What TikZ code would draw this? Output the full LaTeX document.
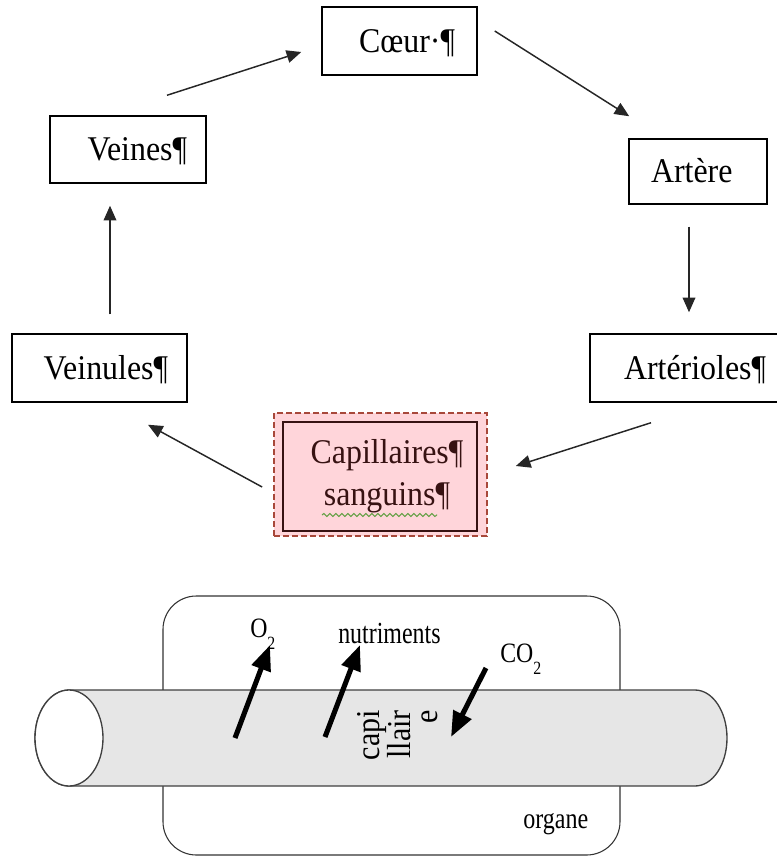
\documentclass[tikz,border=0pt]{standalone}
\usepackage{fontspec}
\setmainfont{Liberation Serif}
\newfontfamily\boxfont[FakeStretch=0.92]{Liberation Serif}
\newfontfamily\labfont[FakeStretch=0.85]{Liberation Serif}
\newfontfamily\nutfont[FakeStretch=0.78]{Liberation Serif}
\newfontfamily\orgfont[FakeStretch=0.82]{Liberation Serif}
\newfontfamily\capfont[FakeStretch=0.9]{Liberation Serif}
\usetikzlibrary{arrows.meta,calc,decorations.pathmorphing}
\definecolor{pinkfill}{RGB}{255,213,218}
\definecolor{dashbrown}{RGB}{168,72,58}
\definecolor{darkbrown}{RGB}{55,18,18}
\definecolor{squig}{RGB}{100,160,70}
\definecolor{tubegray}{RGB}{230,230,230}
\begin{document}
\begin{tikzpicture}[x=0.75pt,y=-0.75pt,
  box/.style={draw=black, line width=1.1pt, rectangle, inner ysep=0pt,
    font=\boxfont\fontsize{26}{30}\selectfont, text height=17.2pt, text depth=0pt},
  flow/.style={line width=1.1pt, draw=black!85, -{Triangle[length=11pt,width=9.5pt]}},
  gas/.style={line width=3.8pt, -{Triangle[length=19pt,width=14.5pt]}},
  lab/.style={anchor=base west, inner sep=0pt},
]
\useasboundingbox (0,0) rectangle (777,857);
\clip (0,0) rectangle (777,857);

% ---- circulation boxes ----
\node[box, minimum height=51pt, inner xsep=16.5pt, text width=83.25pt, align=right]
  (coeur) at (399.5,41) {Cœur·¶};
\node[box, minimum height=50.25pt, inner xsep=14.25pt, text width=88.5pt, align=right]
  (veines) at (128,149.5) {Veines¶};
\node[box, minimum height=48.75pt, inner xsep=16.5pt, text width=70.5pt, align=left]
  (artere) at (698,171.5) {Artère};
\node[box, minimum height=51pt, inner xsep=14.25pt, text width=117.75pt, align=right]
  (arterioles) at (687.5,368) {Artérioles¶};
\node[box, minimum height=51pt, inner xsep=14.25pt, text width=102.75pt, align=right]
  (veinules) at (99.5,368) {Veinules¶};

\node[draw=dashbrown, dashed, dash pattern=on 4.5pt off 2.25pt, line width=1.3pt,
  fill=pinkfill, minimum width=159.75pt, minimum height=92.25pt, inner sep=0pt]
  (capout) at (380.5,474.5) {};
\node[draw=darkbrown, line width=1.4pt, minimum width=145.5pt, minimum height=81.75pt,
  inner sep=0pt, text width=145.5pt, align=center, text=darkbrown,
  font=\boxfont\fontsize{26}{31.5}\selectfont]
  (capin) at (380,476.5) {\hspace*{10.5pt}Capillaires¶\\\hspace*{10.5pt}sanguins¶};
\draw[squig, line width=0.8pt, decorate,
  decoration={snake, amplitude=1.1pt, segment length=4.5pt}] (322,515) -- (437,515);

% ---- circulation arrows ----
\draw[flow] ($(veines.north)+(39,-20)$) -- ($(coeur.west)+(-20,11)$);
\draw[flow] ($(coeur.east)+(17,-10)$) -- ($(artere.north west)+(1,-22)$);
\draw[flow] ($(artere.south)+(-9,22)$) -- ($(arterioles.north)+(1.5,-21)$);
\draw[flow] ($(arterioles.south)+(-36.5,20)$) -- ($(capout.east)+(28,-8.5)$);
\draw[flow] ($(capout.west)+(-11,12.5)$) -- ($(veinules.south)+(48.5,22)$);
\draw[flow] ($(veinules.north)+(10.5,-19)$) -- ($(veines.south)+(-18,22)$);

% ---- organ and capillary ----
\node[draw=black!80, line width=0.8pt, rounded corners=25pt, minimum width=342.75pt,
  minimum height=194.25pt, inner sep=0pt] (organe) at (391.5,725.5) {};
\draw[draw=black!75, line width=1pt, fill=tubegray]
  (69,690) -- (695,690)
  arc[start angle=90, end angle=-90, x radius=24pt, y radius=36pt]
  -- (69,786)
  arc[start angle=270, end angle=90, x radius=25.5pt, y radius=36pt] -- cycle;
\draw[draw=black!75, line width=1pt, fill=white]
  (69,738) ellipse [x radius=25.5pt, y radius=36pt];

\coordinate (o2s) at (235,738);  \coordinate (o2e) at (270,645);
\coordinate (nus) at (325,737);  \coordinate (nue) at (360,645);
\coordinate (cos) at (486,668);  \coordinate (coe) at (451,737);
\draw[gas] (o2s) -- (o2e);
\draw[gas] (nus) -- (nue);
\draw[gas] (cos) -- (coe);

\node[lab, font=\labfont\fontsize{21}{24}\selectfont] (o2) at (250,637)
  {O\raisebox{-9.5pt}{\fontsize{14}{16}\selectfont 2}};
\node[lab, font=\nutfont\fontsize{23}{26}\selectfont] (nutri) at (338,643) {nutriments};
\node[lab, font=\labfont\fontsize{21}{24}\selectfont] (co2) at (500,662)
  {CO\raisebox{-9.5pt}{\fontsize{14}{16}\selectfont 2}};
\node[lab, font=\orgfont\fontsize{22}{24}\selectfont] (org) at (523,828) {organe};
\node[rotate=90, anchor=north east, inner sep=0pt, align=right,
  font=\capfont\fontsize{25}{20}\selectfont] (capil) at (357,710) {capi\\llair\\e};
\end{tikzpicture}
\end{document}
